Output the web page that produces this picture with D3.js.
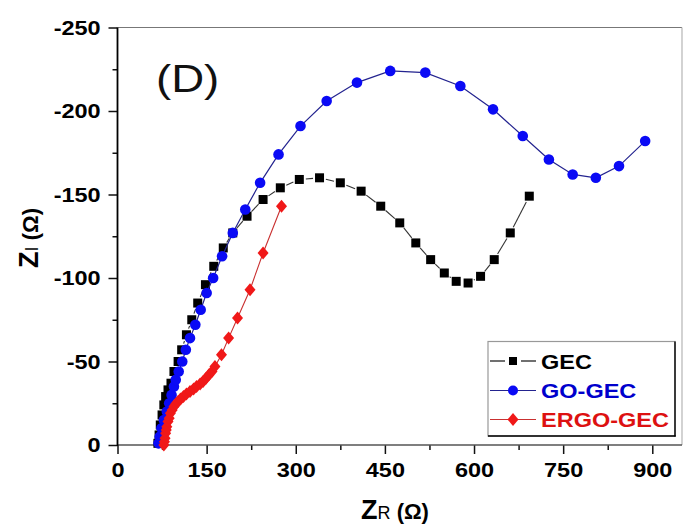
<!DOCTYPE html>
<html>
<head>
<meta charset="utf-8">
<script src="https://cdn.jsdelivr.net/npm/d3@7"></script>
<style>
  body { margin: 0; background: #fff; }
  svg { display: block; }
  text { font-family: "Liberation Sans", Arial, sans-serif; }
</style>
</head>
<body>
<svg id="chart" width="693" height="531"></svg>
<script>
// Nyquist plots: real impedance Z_R vs imaginary impedance Z_I (ohm)
const seriesNames = ["GEC", "GO-GEC", "ERGO-GEC"];

const gecZr = [68, 70, 72, 75, 78, 81, 85, 90, 95, 102, 108, 116, 125, 135, 148, 162, 178, 194, 218, 245,
               274, 306, 340, 375, 410, 443, 475, 502, 527, 550, 570, 590, 611, 634, 661, 693];
const gecZi = [-1, -6, -12, -18, -24, -29, -33, -37, -44, -50, -57, -66, -75, -85, -96, -107, -118, -127, -137, -147,
               -154, -159, -160, -157, -152, -143, -133, -121, -111, -103, -98, -97, -101, -111, -127, -149];

const goZr = [69, 71, 74, 78, 83, 87, 91, 95, 98, 103, 109, 115, 122, 131, 140, 150, 161, 176, 194, 215,
              240, 271, 308, 352, 403, 459, 518, 577, 632, 682, 726, 766, 805, 844, 888];
const goZi = [-1, -5, -10, -15, -20, -25, -30, -35, -39, -44, -50, -57, -64, -72, -81, -91, -100, -113, -127, -141,
              -157, -174, -191, -206, -217, -224, -223, -215, -201, -185, -171, -162, -160, -167, -182];

const ergoZr = [78, 79, 80, 81, 82, 83, 85, 87, 89, 92, 95, 98, 102, 106, 111, 116, 122, 128, 133, 139,
                144, 149, 154, 159, 164, 175, 187, 202, 223, 245, 276];
const ergoZi = [0, -2, -4, -7, -9, -11, -14, -16, -19, -21, -23, -24.5, -26, -27.5, -29, -30.5, -32, -33.5, -35, -36.5,
                -38, -40, -42, -44, -47, -54, -64, -76, -93, -115, -143];

const xTicks = [0, 150, 300, 450, 600, 750, 900];
const xMinorTicks = [75, 225, 375, 525, 675, 825];
const yTicks = [0, -50, -100, -150, -200, -250];
const yMinorTicks = [-25, -75, -125, -175, -225];

const svg = d3.select("#chart");
const x = d3.scaleLinear().domain([0, 950]).range([117.5, 682]);
const y = d3.scaleLinear().domain([0, -250]).range([445, 27.5]);
const stretch = 1.12;

// frame (top / right)
svg.append("line").attr("x1", x(0)).attr("x2", x(950)).attr("y1", y(-250)).attr("y2", y(-250))
  .attr("stroke", "#777").attr("stroke-width", 1.2);
svg.append("line").attr("x1", x(950)).attr("x2", x(950)).attr("y1", y(-250)).attr("y2", y(0))
  .attr("stroke", "#b5b5b5").attr("stroke-width", 1.2);

// x axis
const gx = svg.append("g").attr("transform", `translate(0,${y(0)})`)
  .call(d3.axisBottom(x).tickValues(xTicks).tickSize(9).tickPadding(8).tickFormat(d => String(d)));
gx.select(".domain").remove();
gx.selectAll(".tick line").attr("stroke", "#111").attr("stroke-width", 1.5);
gx.selectAll(".tick text").attr("font-size", 21).attr("font-weight", "bold").attr("fill", "#000")
  .attr("transform", `scale(${stretch},1)`);
const gxm = svg.append("g").attr("transform", `translate(0,${y(0)})`)
  .call(d3.axisBottom(x).tickValues(xMinorTicks).tickSize(5).tickFormat(""));
gxm.select(".domain").remove();
gxm.selectAll(".tick line").attr("stroke", "#111").attr("stroke-width", 1.5);

// y axis
const gy = svg.append("g").attr("transform", `translate(${x(0)},0)`)
  .call(d3.axisLeft(y).tickValues(yTicks).tickSize(9).tickPadding(6).tickFormat(d => String(d)));
gy.select(".domain").remove();
gy.selectAll(".tick line").attr("stroke", "#111").attr("stroke-width", 1.5);
gy.selectAll(".tick text").attr("font-size", 21).attr("font-weight", "bold").attr("fill", "#000")
  .attr("transform", `scale(${stretch},1)`);
const gym = svg.append("g").attr("transform", `translate(${x(0)},0)`)
  .call(d3.axisLeft(y).tickValues(yMinorTicks).tickSize(5).tickFormat(""));
gym.select(".domain").remove();
gym.selectAll(".tick line").attr("stroke", "#111").attr("stroke-width", 1.5);

// axis lines
svg.append("line").attr("x1", x(0)).attr("x2", x(950)).attr("y1", y(0)).attr("y2", y(0))
  .attr("stroke", "#555").attr("stroke-width", 1.6);
svg.append("line").attr("x1", x(0)).attr("x2", x(0)).attr("y1", y(-250)).attr("y2", y(0) + 1)
  .attr("stroke", "#000").attr("stroke-width", 1.8);

// series
const plot = svg.append("g");

// GEC: connecting segments stop short of each square
const gecPts = gecZr.map((v, i) => [x(v), y(gecZi[i])]);
const gap = 6.5;
for (let i = 1; i < gecPts.length; i++) {
  const [x1, y1] = gecPts[i - 1], [x2, y2] = gecPts[i];
  const d = Math.hypot(x2 - x1, y2 - y1);
  if (d <= 2 * gap + 1) continue;
  const ux = (x2 - x1) / d, uy = (y2 - y1) / d;
  plot.append("line")
    .attr("x1", x1 + ux * gap).attr("y1", y1 + uy * gap)
    .attr("x2", x2 - ux * gap).attr("y2", y2 - uy * gap)
    .attr("stroke", "#333").attr("stroke-width", 1.1);
}
plot.selectAll(".gec").data(gecZr).enter().append("rect")
  .attr("x", (d, i) => x(d) - 4.5).attr("y", (d, i) => y(gecZi[i]) - 4.5)
  .attr("width", 9).attr("height", 9).attr("fill", "#000");

// GO-GEC
const line = d3.line();
plot.append("path").attr("d", line(goZr.map((v, i) => [x(v), y(goZi[i])])))
  .attr("fill", "none").attr("stroke", "#23238f").attr("stroke-width", 1.2);
plot.selectAll(".go").data(goZr).enter().append("circle")
  .attr("cx", d => x(d)).attr("cy", (d, i) => y(goZi[i])).attr("r", 5.3).attr("fill", "#0a0af5");

// ERGO-GEC
plot.append("path").attr("d", line(ergoZr.map((v, i) => [x(v), y(ergoZi[i])])))
  .attr("fill", "none").attr("stroke", "#c93030").attr("stroke-width", 1.1);
const diamondPath = "M0,-6.5L5.5,0L0,6.5L-5.5,0Z";
plot.selectAll(".ergo").data(ergoZr).enter().append("path")
  .attr("d", diamondPath)
  .attr("transform", (d, i) => `translate(${x(d)},${y(ergoZi[i])})`)
  .attr("fill", "#f01818");

// panel label
svg.append("text").attr("transform", "translate(156,92) scale(1.2,1)")
  .attr("font-family", "'Open Sans', sans-serif").attr("font-size", 38).attr("fill", "#111")
  .text("(D)");

// legend
const lg = svg.append("g");
lg.append("rect").attr("x", 488).attr("y", 341.5).attr("width", 187).attr("height", 94.5)
  .attr("fill", "#fff").attr("stroke", "#999").attr("stroke-width", 1.2);
lg.append("line").attr("x1", 675).attr("x2", 675).attr("y1", 341.5).attr("y2", 436.5).attr("stroke", "#000").attr("stroke-width", 1.4);
lg.append("line").attr("x1", 488).attr("x2", 675.7).attr("y1", 436).attr("y2", 436).attr("stroke", "#000").attr("stroke-width", 1.4);

const legendColors = ["#000", "#0000cc", "#dd1111"];
const rowY = [361, 390.5, 419.5];
seriesNames.forEach((name, i) => {
  const cy = rowY[i];
  if (i === 0) {
    lg.append("line").attr("x1", 490).attr("x2", 505).attr("y1", cy).attr("y2", cy).attr("stroke", "#222").attr("stroke-width", 1.3);
    lg.append("line").attr("x1", 521).attr("x2", 536).attr("y1", cy).attr("y2", cy).attr("stroke", "#222").attr("stroke-width", 1.3);
    lg.append("rect").attr("x", 509).attr("y", cy - 4).attr("width", 8).attr("height", 8).attr("fill", "#000");
  } else if (i === 1) {
    lg.append("line").attr("x1", 490).attr("x2", 536).attr("y1", cy).attr("y2", cy).attr("stroke", "#23238f").attr("stroke-width", 1.2);
    lg.append("circle").attr("cx", 513).attr("cy", cy).attr("r", 5).attr("fill", "#0a0af5");
  } else {
    lg.append("line").attr("x1", 490).attr("x2", 536).attr("y1", cy).attr("y2", cy).attr("stroke", "#c93030").attr("stroke-width", 1.2);
    lg.append("path").attr("d", diamondPath).attr("transform", `translate(513,${cy})`).attr("fill", "#f01818");
  }
  lg.append("text").attr("transform", `translate(541,${cy}) scale(${stretch},1)`).attr("dy", "0.36em")
    .attr("font-size", 21).attr("font-weight", "bold").attr("fill", legendColors[i]).text(name);
});

// axis titles
const xt = svg.append("text").attr("x", 395).attr("y", 519).attr("text-anchor", "middle").attr("fill", "#000");
xt.append("tspan").attr("font-size", 27).attr("font-weight", "bold").text("Z");
xt.append("tspan").attr("font-size", 18).text("R");
xt.append("tspan").attr("font-size", 22).attr("font-weight", "bold").text(" (Ω)");

const yt = svg.append("text").attr("transform", "translate(38,238) rotate(-90)").attr("text-anchor", "middle").attr("fill", "#000");
yt.append("tspan").attr("font-size", 27).attr("font-weight", "bold").text("Z");
yt.append("tspan").attr("font-size", 18).text("I");
yt.append("tspan").attr("font-size", 22).attr("font-weight", "bold").text(" (Ω)");
</script>
</body>
</html>
